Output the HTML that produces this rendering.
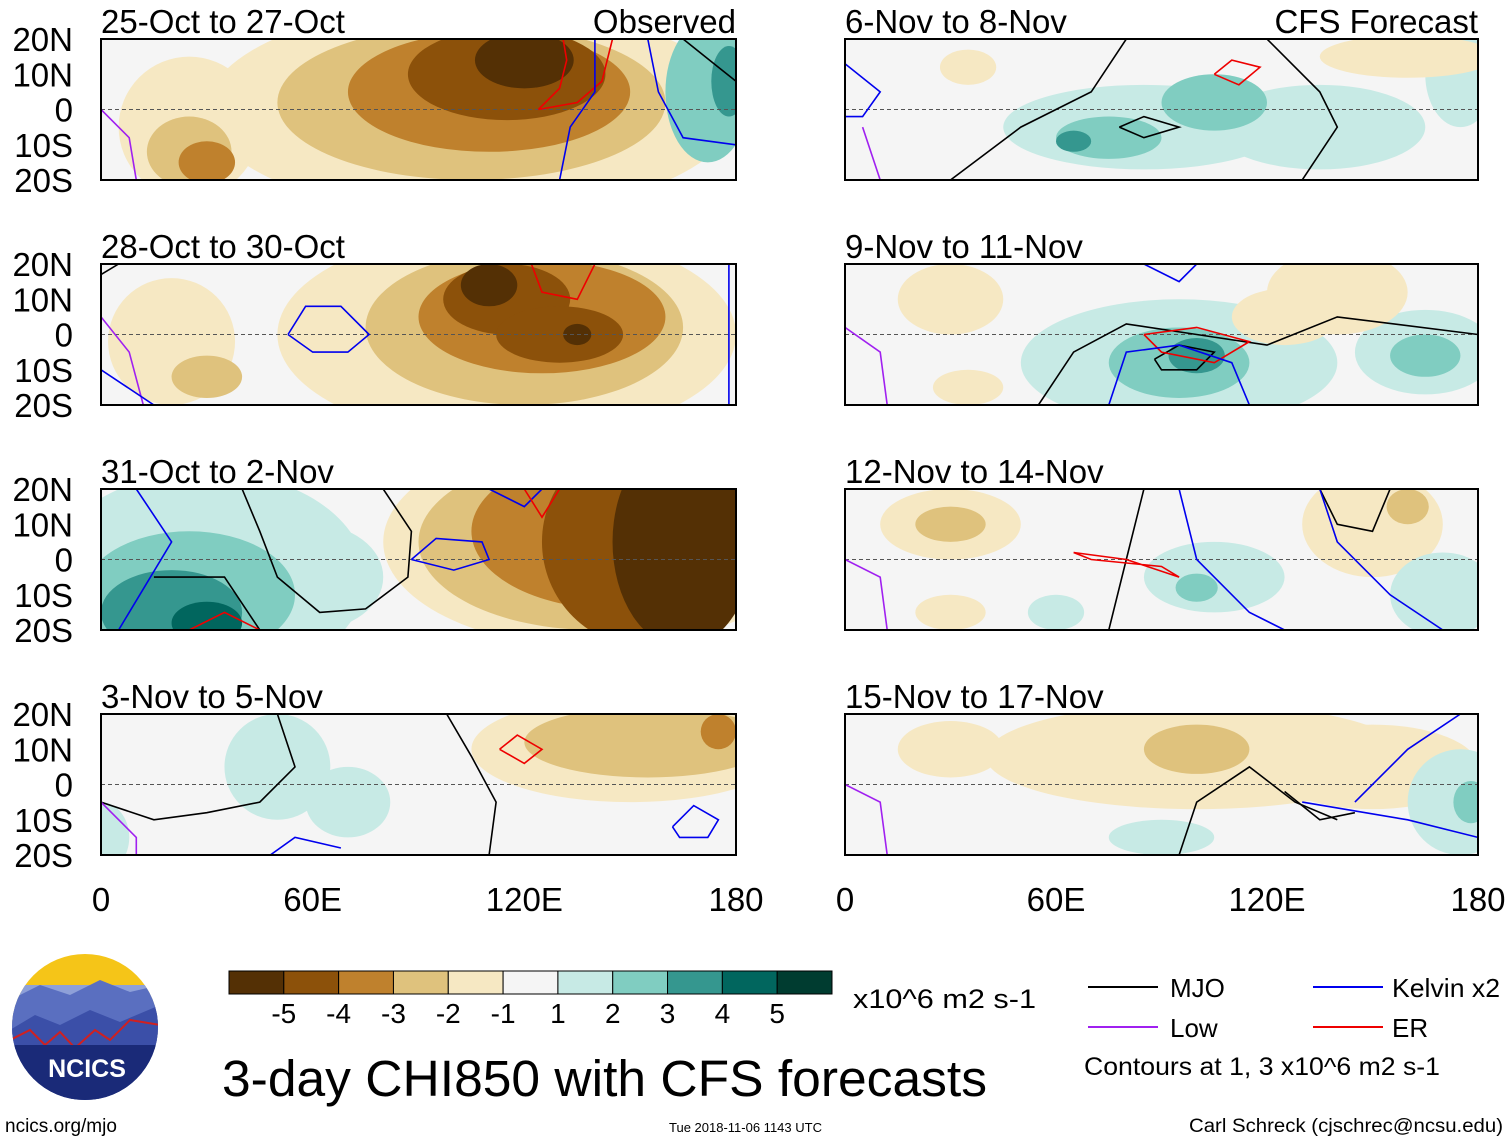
<!DOCTYPE html>
<html><head><meta charset="utf-8">
<style>
html,body{margin:0;padding:0;background:#fff;}
svg{display:block;font-family:"Liberation Sans",Helvetica,Arial,sans-serif;}
</style></head>
<body>
<svg id="chart" width="1510" height="1142" viewBox="0 0 1510 1142" xmlns="http://www.w3.org/2000/svg">
<defs id="defs"></defs>
<g id="panels"></g>
<g id="colorbar"></g>
<g id="footer">
  <g>
    <clipPath id="logoclip"><circle cx="85" cy="1027" r="73"/></clipPath>
    <g clip-path="url(#logoclip)">
      <rect x="10" y="952" width="150" height="150" fill="#f5c518"/>
      <rect x="10" y="985" width="150" height="120" fill="#8ea0d8"/>
      <path d="M10 1000 L40 985 L70 995 L100 980 L130 992 L160 985 L160 1102 L10 1102Z" fill="#5a6fc0"/>
      <path d="M10 1030 L35 1015 L60 1025 L90 1010 L120 1022 L160 1005 L160 1102 L10 1102Z" fill="#3b4fa8"/>
      <path d="M10 1040 L30 1030 L45 1045 L60 1032 L75 1048 L95 1030 L110 1040 L130 1020 L160 1025" fill="none" stroke="#d02020" stroke-width="2"/>
      <rect x="10" y="1045" width="150" height="60" fill="#1a2a78"/>
    </g>
    <text x="87" y="1077" font-size="25" font-weight="bold" fill="#fff" text-anchor="middle">NCICS</text>
  </g>
  <text x="222" y="1096" font-size="51" textLength="765" lengthAdjust="spacingAndGlyphs">3-day CHI850 with CFS forecasts</text>
  <text x="853" y="1008" font-size="27" textLength="183" lengthAdjust="spacingAndGlyphs">x10^6 m2 s-1</text>
  <text x="5" y="1132" font-size="19">ncics.org/mjo</text>
  <text x="669" y="1132" font-size="13">Tue 2018-11-06 1143 UTC</text>
  <text x="1503" y="1132" font-size="19" text-anchor="end" textLength="314" lengthAdjust="spacingAndGlyphs">Carl Schreck (cjschrec@ncsu.edu)</text>
  <g>
    <line x1="1088" y1="987" x2="1158" y2="987" stroke="#000" stroke-width="2"/>
    <text x="1170" y="997" font-size="26">MJO</text>
    <line x1="1313" y1="987" x2="1383" y2="987" stroke="#0000ee" stroke-width="2"/>
    <text x="1392" y="997" font-size="26" textLength="108" lengthAdjust="spacingAndGlyphs">Kelvin x2</text>
    <line x1="1088" y1="1027" x2="1158" y2="1027" stroke="#a020f0" stroke-width="2"/>
    <text x="1170" y="1037" font-size="26">Low</text>
    <line x1="1313" y1="1027" x2="1383" y2="1027" stroke="#ee0000" stroke-width="2"/>
    <text x="1392" y="1037" font-size="26">ER</text>
    <text x="1084" y="1075" font-size="25" textLength="356" lengthAdjust="spacingAndGlyphs">Contours at 1, 3 x10^6 m2 s-1</text>
  </g>
</g>
</svg>
<script>
// ---- data ----
const levelColors = ["#543005","#8c510a","#bf812d","#dfc27d","#f6e8c3","#f5f5f5","#c7eae5","#80cdc1","#35978f","#01665e","#003c30"];
const colorbarLabels = ["-5","-4","-3","-2","-1","1","2","3","4","5"];
const lonTicks = [0,60,120,180];
const lonTickLabels = ["0","60E","120E","180"];
const latTicks = [20,10,0,-10,-20];
const latTickLabels = ["20N","10N","0","10S","20S"];
const panelTitles = ["25-Oct to 27-Oct","28-Oct to 30-Oct","31-Oct to 2-Nov","3-Nov to 5-Nov","6-Nov to 8-Nov","9-Nov to 11-Nov","12-Nov to 14-Nov","15-Nov to 17-Nov"];
// anomaly blobs: [lon, lat, lonRadius, latRadius, levelIndex]
const blobs = [
 [[105,0,75,30,4],[25,-5,20,20,4],[105,2,55,22,3],[25,-12,12,10,3],[110,5,40,17,2],[30,-15,8,6,2],[115,10,28,13,1],[120,14,14,8,0],[172,5,12,20,7],[178,8,5,10,8]],
 [[115,0,65,30,4],[20,-2,18,18,4],[120,2,45,22,3],[125,5,35,16,2],[30,-12,10,6,3],[115,10,18,10,1],[130,0,18,8,1],[110,14,8,6,0],[135,0,4,3,0]],
 [[30,-5,45,30,6],[60,-5,20,15,6],[25,-10,30,18,7],[20,-15,20,12,8],[30,-18,10,6,9],[140,5,60,30,4],[140,5,50,25,3],[145,8,40,22,2],[155,5,30,30,1],[165,5,20,30,0]],
 [[150,10,45,15,4],[155,12,35,10,3],[175,15,5,5,2],[50,5,15,15,6],[70,-5,12,10,6],[0,-15,8,10,6]],
 [[85,-5,40,12,6],[135,-5,30,12,6],[105,2,15,8,7],[75,-8,15,6,7],[65,-9,5,3,8],[175,10,10,15,6],[160,15,25,6,4],[35,12,8,5,4]],
 [[95,-8,45,18,6],[95,-8,20,10,7],[100,-6,8,5,8],[165,-5,20,12,6],[165,-6,10,6,7],[140,12,20,12,4],[30,10,15,10,4],[35,-15,10,5,4],[125,5,15,8,4]],
 [[30,10,20,10,4],[30,10,10,5,3],[150,10,20,15,4],[160,15,6,5,3],[30,-15,10,5,4],[105,-5,20,10,6],[100,-8,6,4,7],[170,-10,15,12,6],[60,-15,8,5,6]],
 [[100,8,60,15,4],[100,10,15,7,3],[150,5,30,12,4],[30,10,15,8,4],[175,-5,15,15,6],[178,-5,5,6,7],[90,-15,15,5,6]]
];
// contour lines: [type, [[lon,lat],...]]
const contours = [
 [["er",[[124,0],[130,6],[132,14],[131,20]]],["er",[[124,0],[135,2],[142,8],[145,20]]],["kelvin",[[130,-20],[133,-5],[140,5],[140,20]]],["kelvin",[[155,20],[158,5],[165,-8],[180,-10]]],["mjo",[[165,20],[175,12],[180,8]]],["low",[[0,0],[8,-8],[10,-20]]]],
 [["kelvin",[[53,0],[58,8],[68,8],[76,0],[70,-5],[60,-5],[53,0]]],["er",[[122,20],[125,12],[135,10],[140,20]]],["mjo",[[0,17],[5,20]]],["low",[[0,5],[8,-5],[12,-20]]],["kelvin",[[0,-10],[15,-20]]],["kelvin",[[178,20],[178,-20]]]],
 [["mjo",[[40,20],[45,8],[50,-5],[62,-15],[75,-14],[87,-5],[88,8],[80,20]]],["mjo",[[15,-5],[35,-5],[45,-20]]],["kelvin",[[88,0],[95,6],[108,5],[110,0],[100,-3],[88,0]]],["kelvin",[[110,20],[120,15],[125,20]]],["kelvin",[[10,20],[20,5],[5,-20]]],["er",[[25,-20],[35,-15],[45,-20]]],["er",[[120,20],[125,12],[130,20]]]],
 [["mjo",[[98,20],[105,8],[112,-5],[110,-20]]],["mjo",[[0,-5],[15,-10],[30,-8],[45,-5],[55,5],[50,20]]],["er",[[113,10],[118,14],[125,10],[120,6],[113,10]]],["kelvin",[[162,-12],[168,-6],[175,-10],[172,-15],[164,-15],[162,-12]]],["kelvin",[[48,-20],[55,-15],[68,-18]]],["low",[[0,-5],[10,-15],[10,-20]]]],
 [["mjo",[[30,-20],[50,-5],[70,5],[80,20]]],["mjo",[[78,-5],[85,-2],[95,-5],[85,-8],[78,-5]]],["mjo",[[120,20],[135,5],[140,-5],[130,-20]]],["er",[[105,10],[110,14],[118,12],[112,7],[105,10]]],["kelvin",[[0,13],[10,5],[5,-2],[0,-2]]],["low",[[5,-5],[10,-20]]]],
 [["mjo",[[55,-20],[65,-5],[80,3],[100,0],[120,-3],[140,5],[180,0]]],["mjo",[[88,-7],[95,-3],[105,-5],[100,-10],[90,-10],[88,-7]]],["er",[[85,0],[100,2],[115,-2],[105,-8],[90,-5],[85,0]]],["kelvin",[[75,-20],[80,-5],[95,-3],[110,-8],[115,-20]]],["kelvin",[[85,20],[95,15],[100,20]]],["low",[[0,2],[10,-5],[12,-20]]]],
 [["mjo",[[75,-20],[80,0],[85,20]]],["mjo",[[135,20],[140,10],[150,8],[155,20]]],["er",[[65,2],[80,0],[95,-5],[90,-2],[70,0],[65,2]]],["kelvin",[[95,20],[100,0],[115,-15],[125,-20]]],["kelvin",[[135,20],[140,5],[155,-10],[170,-20]]],["low",[[0,0],[10,-5],[12,-20]]]],
 [["mjo",[[95,-20],[100,-5],[115,5],[128,-5],[140,-10]]],["mjo",[[125,-2],[135,-10],[145,-8]]],["kelvin",[[130,-5],[160,-10],[180,-15]]],["kelvin",[[145,-5],[160,10],[175,20]]],["low",[[0,0],[10,-5],[12,-20]]]]
];
// ---- layout ----
const colX = [[101,736],[845,1478]];
const rowY = [39,264,489,714];
const panelH = 141;
const styleMap = {mjo:"#000000",kelvin:"#0000ee",er:"#ee0000",low:"#a020f0"};
const NS = "http://www.w3.org/2000/svg";
function mk(tag, attrs, parent){const e=document.createElementNS(NS,tag);for(const k in attrs)e.setAttribute(k,attrs[k]);if(parent)parent.appendChild(e);return e;}
const panelsG = document.getElementById("panels");
const defs = document.getElementById("defs");
for(let p=0;p<8;p++){
  const col = p<4?0:1, row = p%4;
  const x0=colX[col][0], x1=colX[col][1], y0=rowY[row];
  const xs = lon => x0 + (lon/180)*(x1-x0);
  const ys = lat => y0 + (20-lat)/40*panelH;
  const g = mk("g",{},panelsG);
  
  
  const cp = mk("clipPath",{id:"clip"+p},defs);
  mk("rect",{x:x0,y:y0,width:x1-x0,height:panelH},cp);
  mk("rect",{x:x0,y:y0,width:x1-x0,height:panelH,fill:"#f5f5f5"},g);
  const fg = mk("g",{"clip-path":"url(#clip"+p+")"},g);
  blobs[p].forEach(b=>{
    const el = mk("ellipse",{cx:xs(b[0]),cy:ys(b[1]),rx:b[2]/180*(x1-x0),ry:b[3]/40*panelH,fill:levelColors[b[4]]},fg);
    
    
  });
  mk("line",{x1:x0,y1:ys(0),x2:x1,y2:ys(0),stroke:"#555","stroke-width":1,"stroke-dasharray":"4,3"},fg);
  contours[p].forEach(c=>{
    const d = c[1].map((pt,i)=>(i?"L":"M")+xs(pt[0]).toFixed(1)+" "+ys(pt[1]).toFixed(1)).join(" ");
    const pl = mk("path",{d:d,fill:"none",stroke:styleMap[c[0]],"stroke-width":1.6},fg);
    
    
  });
  mk("rect",{x:x0,y:y0,width:x1-x0,height:panelH,fill:"none",stroke:"#000","stroke-width":2},g);
  const t = mk("text",{x:x0,y:y0-6,"font-size":33},g);
  t.textContent = panelTitles[p];
  
  
  if(p===0||p===4){
    const s = mk("text",{x:x1,y:y0-6,"font-size":33,"text-anchor":"end"},g);
    s.textContent = p===0?"Observed":"CFS Forecast";
    
    
  }
  if(col===0){
    latTicks.forEach((lt,i)=>{
      const tl = mk("text",{x:73,y:ys(lt)+12,"font-size":33,"text-anchor":"end"},g);
      tl.textContent = latTickLabels[i];
      
      
    });
  }
  if(row===3){
    lonTicks.forEach((ln,i)=>{
      const tl = mk("text",{x:xs(ln),y:911,"font-size":33,"text-anchor":"middle"},g);
      tl.textContent = lonTickLabels[i];
      
      
    });
  }
}
// colorbar
const cb = document.getElementById("colorbar");
const cbx=229, cbw=603, cby=971, cbh=23, bw=cbw/levelColors.length;
levelColors.forEach((c,i)=>{
  const r = mk("rect",{x:cbx+i*bw,y:cby,width:bw,height:cbh,fill:c,stroke:"#000","stroke-width":1},cb);
  
  
});
colorbarLabels.forEach((l,i)=>{
  const t = mk("text",{x:cbx+(i+1)*bw,y:1023,"font-size":28,"text-anchor":"middle"},cb);
  t.textContent = l;
  
  
});
</script>
</body></html>
